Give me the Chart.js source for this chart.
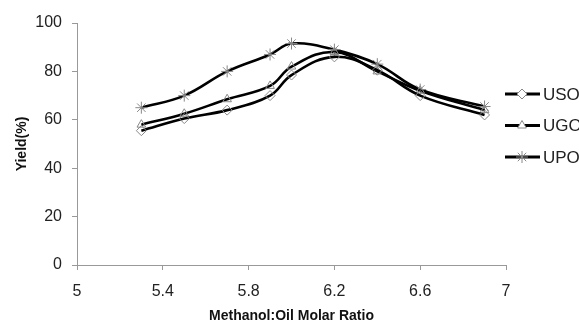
<!DOCTYPE html>
<html>
<head>
<meta charset="utf-8">
<script src="https://cdn.jsdelivr.net/npm/chart.js@4/dist/chart.umd.min.js"></script>
<style>
  body { margin: 0; background: #fff; }
  canvas { display: block; }
</style>
</head>
<body>
<canvas id="yieldChart" width="579" height="325"></canvas>
<script>
// methanol:oil molar ratio vs biodiesel yield, three oils
const ratio = [5.3, 5.5, 5.7, 5.9, 6.0, 6.2, 6.4, 6.6, 6.9];
const uso = [55.5, 60.5, 64, 70, 78.5, 86, 80.5, 70, 62];
const ugo = [58, 62.5, 68.5, 74, 82, 88, 80, 72, 64];
const upo = [65, 70, 80, 87, 91.5, 89, 83, 72.5, 65.5];
const xTicks = [5, 5.4, 5.8, 6.2, 6.6, 7];
const yTicks = [0, 20, 40, 60, 80, 100];

const series = [
    { label: 'USO', values: uso, shape: 'rectRot', size: 5 },
    { label: 'UGO', values: ugo, shape: 'triangle', size: 5 },
    { label: 'UPO', values: upo, shape: 'star', size: 6 }
];

const font = 'Liberation Sans, Arial, sans-serif';

// legend: line with marker in the middle, like the spreadsheet one
const sideLegend = {
    id: 'sideLegend',
    afterDraw(chart) {
        const ctx = chart.ctx;
        chart.data.datasets.forEach((ds, i) => {
            const y = 94 + i * 31.5;
            ctx.save();
            ctx.strokeStyle = '#000';
            ctx.lineWidth = 3;
            ctx.beginPath();
            ctx.moveTo(505, y);
            ctx.lineTo(540, y);
            ctx.stroke();
            ctx.strokeStyle = '#888';
            ctx.fillStyle = '#fff';
            ctx.lineWidth = 1;
            Chart.helpers.drawPoint(ctx, { pointStyle: ds.pointStyle, radius: ds.pointRadius, borderWidth: 1 }, 522, y);
            ctx.fillStyle = '#222';
            ctx.font = '17px ' + font;
            ctx.textBaseline = 'middle';
            ctx.fillText(ds.label, 543, y + 1);
            ctx.restore();
        });
    }
};

new Chart(document.getElementById('yieldChart'), {
    type: 'line',
    data: {
        datasets: series.map(s => ({
            label: s.label,
            data: ratio.map((r, i) => ({ x: r, y: s.values[i] })),
            borderColor: '#000',
            borderWidth: 2.6,
            tension: 0.4,
            pointStyle: s.shape,
            pointRadius: s.size,
            pointBorderColor: '#888',
            pointBorderWidth: 1,
            pointBackgroundColor: 'rgba(0,0,0,0)'
        }))
    },
    options: {
        responsive: false,
        animation: false,
        layout: { padding: { top: 23, right: 73, left: 0, bottom: 0 } },
        plugins: { legend: { display: false }, tooltip: { enabled: false } },
        scales: {
            x: {
                type: 'linear',
                min: 5, max: 7,
                afterBuildTicks: scale => { scale.ticks = xTicks.map(v => ({ value: v })); },
                afterFit: scale => { scale.height = 60; },
                grid: { drawOnChartArea: false, drawTicks: true, tickLength: 5, color: '#999' },
                border: { color: '#999', width: 1 },
                ticks: { color: '#222', font: { family: font, size: 16 }, padding: 12, callback: v => String(v) },
                title: { display: true, text: 'Methanol:Oil Molar Ratio', color: '#111',
                         font: { family: font, size: 14, weight: 'bold' }, padding: { top: 0, bottom: 0 } }
            },
            y: {
                min: 0, max: 100,
                afterBuildTicks: scale => { scale.ticks = yTicks.map(v => ({ value: v })); },
                afterFit: scale => { scale.width = 77; },
                grid: { drawOnChartArea: false, drawTicks: true, tickLength: 5, color: '#999' },
                border: { color: '#999', width: 1 },
                ticks: { color: '#222', font: { family: font, size: 16 }, padding: 10 },
                title: { display: true, text: 'Yield(%)', color: '#111',
                         font: { family: font, size: 14, weight: 'bold' }, padding: { top: 14, bottom: 0 } }
            }
        }
    },
    plugins: [sideLegend]
});
</script>
</body>
</html>
